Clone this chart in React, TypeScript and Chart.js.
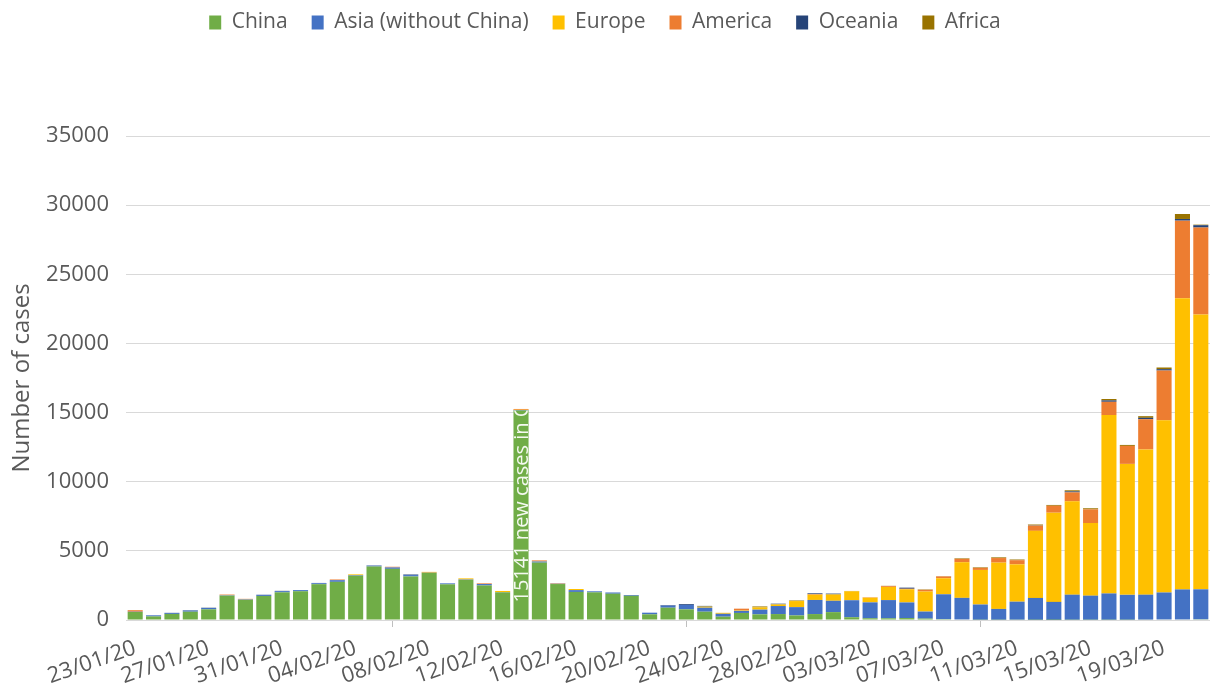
import React, { useEffect, useRef } from "react";
import { Chart, registerables } from "chart.js";

Chart.register(...registerables);

const dates = [
  "23/01/20", "24/01/20", "25/01/20", "26/01/20", "27/01/20", "28/01/20", "29/01/20", "30/01/20", "31/01/20",
  "01/02/20", "02/02/20", "03/02/20", "04/02/20", "05/02/20", "06/02/20", "07/02/20", "08/02/20", "09/02/20",
  "10/02/20", "11/02/20", "12/02/20", "13/02/20", "14/02/20", "15/02/20", "16/02/20", "17/02/20", "18/02/20",
  "19/02/20", "20/02/20", "21/02/20", "22/02/20", "23/02/20", "24/02/20", "25/02/20", "26/02/20", "27/02/20",
  "28/02/20", "29/02/20", "01/03/20", "02/03/20", "03/03/20", "04/03/20", "05/03/20", "06/03/20", "07/03/20",
  "08/03/20", "09/03/20", "10/03/20", "11/03/20", "12/03/20", "13/03/20", "14/03/20", "15/03/20", "16/03/20",
  "17/03/20", "18/03/20", "19/03/20", "20/03/20", "21/03/20",
];

const china = [
  580, 260, 440, 600, 770, 1760, 1460, 1740, 2000,
  2080, 2590, 2760, 3200, 3870, 3700, 3150, 3400, 2580,
  2900, 2500, 2000, 15141, 4150, 2600, 2030, 2000, 1900,
  1750, 410, 890, 770, 600, 240, 510, 410, 430,
  330, 430, 570, 200, 125, 120, 140, 100, 60,
  40, 20, 20, 25, 15, 10, 20, 20, 20,
  20, 30, 40, 40, 50,
];
const asia = [
  20, 80, 80, 90, 110, 30, 30, 80, 90,
  80, 70, 120, 40, 60, 100, 100, 20, 70,
  30, 100, 20, 40, 80, 20, 130, 75, 90,
  60, 120, 150, 320, 290, 210, 150, 340, 580,
  600, 1020, 820, 1230, 1150, 1320, 1130, 510, 1800,
  1560, 1100, 780, 1300, 1580, 1300, 1810, 1740, 1900,
  1800, 1800, 1950, 2170, 2170,
];
const europe = [
  0, 0, 3, 5, 5, 10, 0, 0, 10,
  0, 0, 0, 60, 0, 0, 0, 60, 0,
  80, 0, 80, 20, 20, 0, 80, 0, 0,
  0, 0, 0, 0, 80, 70, 40, 170, 120,
  440, 380, 460, 650, 340, 950, 950, 1450, 1160,
  2580, 2500, 3350, 2700, 4850, 6450, 6750, 5250, 12900,
  9470, 10500, 12450, 21050, 19870,
];
const america = [
  110, 0, 0, 0, 0, 40, 40, 0, 0,
  0, 0, 50, 0, 0, 50, 0, 0, 0,
  0, 50, 0, 60, 60, 30, 0, 0, 0,
  0, 0, 0, 0, 0, 0, 120, 0, 0,
  0, 40, 0, 0, 30, 60, 40, 120, 130,
  240, 150, 330, 300, 380, 500, 650, 990, 960,
  1300, 2190, 3600, 5620, 6290,
];
const oceania = [
  0, 0, 0, 20, 10, 0, 0, 10, 10,
  10, 20, 0, 0, 20, 0, 40, 0, 0,
  0, 0, 0, 0, 0, 0, 0, 0, 0,
  0, 0, 40, 60, 50, 0, 0, 20, 50,
  0, 60, 60, 0, 0, 0, 80, 0, 0,
  0, 0, 0, 0, 20, 0, 70, 0, 100,
  0, 100, 100, 120, 170,
];
const africa = [
  0, 0, 0, 0, 0, 0, 0, 0, 0,
  0, 0, 0, 0, 0, 0, 0, 0, 0,
  0, 0, 0, 0, 0, 10, 0, 0, 0,
  0, 0, 0, 0, 0, 0, 0, 40, 0,
  40, 0, 0, 20, 0, 20, 0, 30, 20,
  40, 40, 50, 50, 60, 60, 80, 80, 100,
  70, 120, 120, 360, 40,
];

const seriesNames = ["China", "Asia (without China)", "Europe", "America", "Oceania", "Africa"];
const seriesColors = ["#70AD47", "#4472C4", "#FFC000", "#ED7D31", "#264478", "#997300"];
const seriesValues = [china, asia, europe, america, oceania, africa];

const yMax = 35000;
const yStep = 5000;
const labelEvery = 4;
const yTitle = "Number of cases";
const annotationIndex = 21;
const annotationText = "15141 new cases in China";

const FONT = "'Open Sans', 'Segoe UI', sans-serif";
const TEXT = "#595959";

const legendSpacer = {
  id: "legendSpacer",
  beforeInit(chart: any) {
    const legend = chart.legend;
    if (!legend) return;
    const origFit = legend.fit;
    legend.fit = function () {
      origFit.call(this);
      this.height = 148;
    };
  },
};

const barLabel = {
  id: "barLabel",
  afterDatasetsDraw(chart: any) {
    const meta = chart.getDatasetMeta(0);
    const el = meta.data[annotationIndex];
    if (!el) return;
    const { x, y, base, width } = el.getProps(["x", "y", "base", "width"], true);
    const ctx = chart.ctx;
    ctx.save();
    ctx.beginPath();
    ctx.rect(x - width / 2, y, width, base - y);
    ctx.clip();
    ctx.translate(x, base - 17);
    ctx.rotate(-Math.PI / 2);
    ctx.font = `20px ${FONT}`;
    ctx.fillStyle = "rgba(255,255,255,0.92)";
    ctx.textAlign = "left";
    ctx.textBaseline = "middle";
    ctx.fillText(annotationText, 0, 1);
    ctx.restore();
  },
};

export default function App() {
  const canvasRef = useRef<HTMLCanvasElement | null>(null);

  useEffect(() => {
    if (!canvasRef.current) return;
    const chart = new Chart(canvasRef.current, {
      type: "bar",
      data: {
        labels: dates,
        datasets: seriesNames.map((name, i) => ({
          label: name,
          data: seriesValues[i],
          backgroundColor: seriesColors[i],
          borderWidth: 0,
          categoryPercentage: 1,
          barPercentage: 0.82,
        })),
      },
      options: {
        animation: false,
        responsive: true,
        maintainAspectRatio: false,
        layout: { padding: { top: -12, left: 0, right: 0, bottom: 0 } },
        plugins: {
          legend: {
            position: "top",
            labels: {
              boxWidth: 12,
              boxHeight: 14,
              padding: 24,
              color: TEXT,
              font: { family: FONT, size: 21 },
            },
          },
          tooltip: { enabled: false },
        },
        scales: {
          x: {
            stacked: true,
            offset: true,
            afterFit: (scale: any) => {
              scale.height = 73;
            },
            grid: {
              offset: true,
              drawOnChartArea: false,
              tickLength: 7,
              color: (ctx: any) => (ctx.index % labelEvery === 0 ? "#bfbfbf" : "rgba(0,0,0,0)"),
            },
            border: { display: true, color: "#d9d9d9", width: 1 },
            ticks: {
              autoSkip: false,
              minRotation: 19,
              maxRotation: 19,
              padding: 8,
              color: TEXT,
              font: { family: FONT, size: 22 },
              callback: (_v: any, i: number) => (i % labelEvery === 0 ? dates[i] : null),
            },
          },
          y: {
            stacked: true,
            min: 0,
            max: yMax,
            afterFit: (scale: any) => {
              scale.width = 126;
            },
            grid: { color: "#d9d9d9", drawTicks: false, lineWidth: 1 },
            border: { display: false },
            ticks: {
              stepSize: yStep,
              padding: 17,
              color: TEXT,
              font: { family: FONT, size: 22 },
              callback: (v: any) => String(v),
            },
            title: {
              display: true,
              text: yTitle,
              color: TEXT,
              padding: { top: 8, bottom: 4 },
              font: { family: FONT, size: 24 },
            },
          },
        },
      },
      plugins: [legendSpacer, barLabel],
    });
    return () => chart.destroy();
  }, []);

  return (
    <div style={{ position: "fixed", left: 0, top: 0, width: 1210, height: 693, background: "#fff" }}>
      <canvas ref={canvasRef} />
    </div>
  );
}
